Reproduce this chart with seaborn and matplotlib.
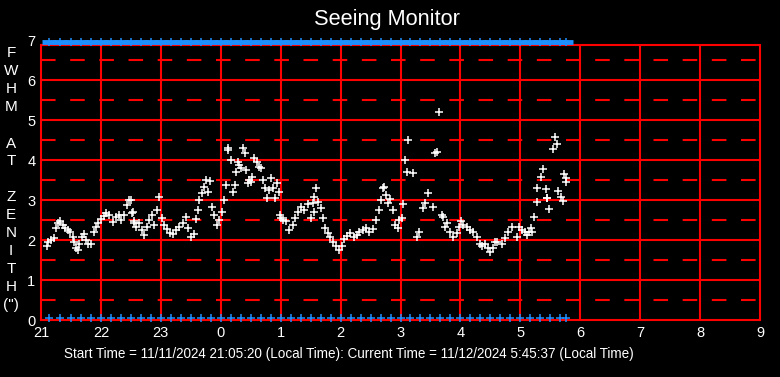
import matplotlib
matplotlib.use("Agg")
import matplotlib.pyplot as plt
import seaborn as sns
import pandas as pd

# minutes after 21:00 and FWHM values (arcsec)
seeing_min = [6, 7, 10, 13, 15, 17, 19, 22, 24, 27, 29, 32, 33, 35, 37, 38, 41, 43, 45, 47,
              50, 53, 55, 57, 60, 63, 65, 68, 72, 75, 78, 80, 83, 86, 88, 91, 93,
              90, 92, 93, 95, 98, 101, 103, 106, 108, 111, 113, 116, 118, 121, 123, 126, 129, 132,
              135, 138, 142, 145, 147, 150, 153, 155, 157, 158, 161, 163, 165, 167, 169, 171, 173,
              176, 178, 181, 183, 185, 187, 187, 190, 192, 194, 195, 197, 198, 200, 202, 204,
              205, 207, 208, 210, 211, 213, 216, 218, 220, 222, 224, 226, 228, 230, 232, 234,
              236, 238, 240, 242, 239, 245, 248, 252, 254, 257, 260, 263, 267, 270, 273,
              272, 273, 275, 277, 280, 282, 284, 287, 289, 292, 295, 298, 301, 303, 306, 309,
              313, 316, 318, 322, 325, 328, 332, 335, 338, 340, 342, 343, 345, 347, 349, 352,
              354, 357, 358, 362, 363, 365, 367, 368, 373, 377, 379, 383, 385, 388,
              393, 395, 397, 399, 402, 403, 405, 407, 410, 413, 417, 419, 421, 423,
              427, 430, 433, 437, 440, 442, 445, 448, 450, 453, 455, 457, 462, 465, 468, 472,
              477, 479, 482, 485, 487, 489, 491, 492, 494, 497, 497, 501, 503, 506, 507, 509,
              507, 513, 515, 517, 518, 521, 523, 524, 526, 526]
seeing_val = [1.86, 1.94, 1.99, 2.04, 2.29, 2.42, 2.47, 2.37, 2.29, 2.24, 2.19, 2.07, 1.94, 1.81, 1.74, 1.91, 2.07, 2.14, 1.99, 1.91,
              1.91, 2.19, 2.32, 2.42, 2.52, 2.59, 2.67, 2.62, 2.44, 2.57, 2.62, 2.49, 2.62, 2.87, 3.00, 2.67, 2.42,
              3.00, 2.70, 2.47, 2.32, 2.42, 2.24, 2.12, 2.32, 2.49, 2.62, 2.37, 2.75, 3.07, 2.54, 2.37, 2.27, 2.17, 2.14,
              2.24, 2.32, 2.42, 2.57, 2.29, 2.07, 2.14, 2.52, 2.75, 3.00, 3.17, 3.32, 3.50, 3.20, 3.47, 2.82, 2.62,
              2.37, 2.49, 2.70, 3.00, 3.38, 4.26, 4.30, 4.00, 3.20, 3.38, 3.70, 3.95, 3.88, 3.80, 4.31, 4.18,
              3.75, 3.43, 3.50, 3.45, 3.58, 4.06, 3.95, 3.83, 3.80, 3.50, 3.30, 3.05, 3.25, 3.55, 3.30, 3.05,
              3.43, 3.20, 2.54, 2.49, 2.62, 2.47, 2.24, 2.37, 2.54, 2.70, 2.82, 2.75, 2.90,
              2.54, 2.70, 2.92, 3.07, 3.30, 2.95, 2.80, 2.54, 2.29, 2.17, 2.07, 1.96, 1.86, 1.76, 1.86, 2.02,
              2.09, 2.17, 2.07, 2.12, 2.19, 2.24, 2.29, 2.19, 2.27, 2.49, 2.75, 3.00, 3.30, 3.32, 3.12, 2.92,
              3.02, 2.75, 2.37, 2.29, 2.49, 2.54, 2.90, 4.00, 3.70, 4.51, 3.68, 2.07, 2.19, 2.80,
              2.92, 3.17, 2.82, 4.18, 4.20, 5.19, 2.62, 2.57, 2.32, 2.42, 2.19, 2.07, 2.17, 2.32,
              2.47, 2.37, 2.32, 2.24, 2.19, 2.07, 1.91, 1.86, 1.91, 1.79, 1.69, 1.79, 1.94, 1.94, 1.89, 2.04,
              2.19, 2.32, 2.07, 2.32, 2.24, 2.19, 2.12, 2.19, 2.29, 2.19, 2.57, 2.95, 3.30, 3.58, 3.78, 3.27,
              3.05, 2.77, 3.05, 4.28, 4.58, 4.41, 3.22, 3.07, 2.97, 3.65, 3.55, 3.45, 2.72, 2.97,
              3.17, 2.77, 2.57, 3.00, 3.07, 3.10, 2.65, 2.34]
n = min(len(seeing_min), len(seeing_val))
seeing_min = seeing_min[:n]
seeing_val = seeing_val[:n]

# blue status markers (minutes after 21:00)
status_min = [8, 19, 30, 40, 50, 60, 70, 80, 90, 100, 110, 120, 130, 140, 150, 160, 170, 180,
              190, 200, 210, 220, 230, 240, 250, 260, 270, 280, 290, 300, 310, 320, 330, 340,
              350, 360, 370, 380, 390, 400, 410, 420, 430, 440, 450, 460, 470, 480, 490, 500,
              510, 520, 526]
top_val = 6.96
bottom_val = 0.06
frame_top = 6.87

x_ticks = [21, 22, 23, 24, 25, 26, 27, 28, 29, 30, 31, 32, 33]
x_labels = ["21", "22", "23", "0", "1", "2", "3", "4", "5", "6", "7", "8", "9"]
y_ticks = [0, 1, 2, 3, 4, 5, 6, 7]

title = "Seeing Monitor"
footer = "Start Time = 11/11/2024 21:05:20 (Local Time): Current Time = 11/12/2024 5:45:37 (Local Time)"
ylabel_letters = ["F", "W", "H", "M", "A", "T", "Z", "E", "N", "I", "T", "H", "(\")"]
ylabel_pos_px = [53, 71, 89, 107, 144, 161, 197, 215, 233, 251, 269, 287, 305]

sns.set_theme(style="dark")
plt.rcParams['font.family'] = ['Liberation Sans', 'DejaVu Sans']

W, H = 780, 377
fig = plt.figure(figsize=(W / 100, H / 100), dpi=100, facecolor="black")
ax = fig.add_axes([41 / W, (H - 320) / H, (760 - 41) / W, (320 - 40) / H])
ax.set_facecolor("black")

red = "#ff0000"
frac = frame_top / 7
# grid
for yv in range(1, 7):
    ax.axhline(yv, color=red, lw=1.5, zorder=1)
ax.axhline(frame_top, color=red, lw=1.5, zorder=1)
for yv in [0.5, 1.5, 2.5, 3.5, 4.5, 5.5, 6.5]:
    ax.axhline(yv, color=red, lw=1.5, dashes=(7, 7), zorder=1)
for xv in x_ticks[1:-1]:
    ax.axvline(xv, ymax=frac, color=red, lw=1.5, zorder=1)

df = pd.DataFrame({"t": [21 + m / 60 for m in seeing_min], "fwhm": seeing_val})
sns.scatterplot(data=df, x="t", y="fwhm", marker="+", color="white", s=36,
                linewidth=1.1, ax=ax, zorder=3)

sdf = pd.DataFrame({"t": [21 + m / 60 for m in status_min]})
sdf["top"] = top_val
sdf["bottom"] = bottom_val
blue = "#1e8fff"
sns.scatterplot(data=sdf, x="t", y="top", marker="_", color=blue, s=110,
                linewidth=3.5, ax=ax, zorder=4, clip_on=False)
sns.scatterplot(data=sdf, x="t", y="top", marker="+", color=blue, s=30,
                linewidth=1.1, ax=ax, zorder=4, clip_on=False)
sns.scatterplot(data=sdf, x="t", y="bottom", marker="+", color=blue, s=30,
                linewidth=1.1, ax=ax, zorder=4, clip_on=False)

ax.set_xlim(21, 33)
ax.set_ylim(0, 7)
ax.set_xticks(x_ticks)
ax.set_xticklabels(x_labels)
ax.set_yticks(y_ticks)
ax.tick_params(colors="white", labelsize=10.5, length=0, pad=4)
for lab in ax.get_xticklabels() + ax.get_yticklabels():
    lab.set_color("white")
ax.set_xlabel("")
ax.set_ylabel("")
ax.grid(False)
for sp in ax.spines.values():
    sp.set_color(red)
    sp.set_linewidth(1.5)
    sp.set_visible(True)
ax.spines["top"].set_visible(False)
ax.spines["left"].set_bounds(0, frame_top)
ax.spines["right"].set_bounds(0, frame_top)

fig.text(387 / W, 1 - 20 / H, title, color="white", fontsize=15.7, ha="center", va="center")
fig.text(349 / W, 1 - 354 / H, footer, color="white", fontsize=9.75, ha="center", va="center")
for letter, py in zip(ylabel_letters, ylabel_pos_px):
    fig.text(11 / W, 1 - py / H, letter, color="white", fontsize=11, ha="center", va="center")

fig.savefig("out.png", dpi=100, facecolor="black")
